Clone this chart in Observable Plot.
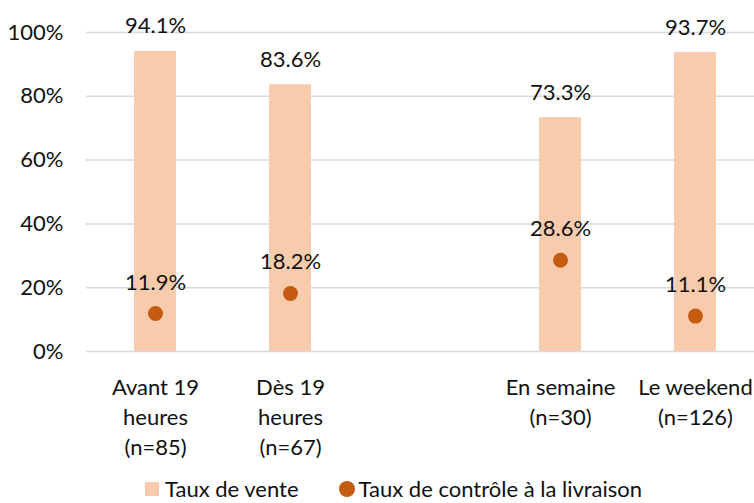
<!DOCTYPE html>
<html>
<head>
<meta charset="utf-8">
<script src="https://cdn.jsdelivr.net/npm/d3@7"></script>
<script src="https://cdn.jsdelivr.net/npm/@observablehq/plot@0.6"></script>
<style>
  html, body { margin: 0; padding: 0; background: #fff; }
  #wrap { position: relative; width: 754px; height: 503px; font-family: Lato, "Open Sans", sans-serif; }
  #legend { position: absolute; left: 145px; top: 478px; height: 22px; line-height: 22px; display: flex; align-items: center; font-size: 22px; color: #111; white-space: nowrap; }
  .sw { display: inline-block; width: 14px; height: 14px; margin-right: 6px; }
  .dot { display: inline-block; width: 16px; height: 16px; border-radius: 50%; margin-right: 4px; }
</style>
</head>
<body>
<div id="wrap"></div>
<script>
const categories = ["Avant 19 heures (n=85)", "Dès 19 heures (n=67)", "", "En semaine (n=30)", "Le weekend (n=126)"];
const categoryLabels = ["Avant 19\nheures\n(n=85)", "Dès 19\nheures\n(n=67)", "", "En semaine\n(n=30)", "Le weekend\n(n=126)"];
const tauxVente = [94.1, 83.6, null, 73.3, 93.7];
const tauxControle = [11.9, 18.2, null, 28.6, 11.1];
const yTicks = [0, 20, 40, 60, 80, 100];
const seriesNames = ["Taux de vente", "Taux de contrôle à la livraison"];
const colors = ["#F8CBAD", "#C55A11"];

const rows = categories.map((c, i) => ({cat: c, label: categoryLabels[i], vente: tauxVente[i], controle: tauxControle[i]}));
const data = rows.filter(d => d.vente != null);
const fmt = v => v.toFixed(1) + "%";

const chart = Plot.plot({
  width: 754,
  height: 470,
  marginLeft: 86,
  marginRight: 0,
  marginTop: 32,
  marginBottom: 119,
  style: {fontFamily: "Lato, 'Open Sans', sans-serif", fontSize: "22px", color: "#111", background: "#fff", overflow: "visible"},
  x: {domain: categories, range: [86, 764], paddingInner: 0.69, paddingOuter: 0.345, axis: null},
  y: {domain: [0, 100], axis: null},
  marks: [
    Plot.ruleY(yTicks, {stroke: "#d9d9d9", strokeWidth: 1.5}),
    Plot.text(yTicks, {x: null, y: d => d, text: d => d + "%", frameAnchor: "left", dx: -23, textAnchor: "end", fill: "#111"}),
    Plot.barY(data, {x: "cat", y: "vente", fill: colors[0]}),
    Plot.dot(data, {x: "cat", y: "controle", r: 7.5, fill: colors[1], stroke: null}),
    Plot.text(data, {x: "cat", y: "vente", text: d => fmt(d.vente), dy: -25, fill: "#111"}),
    Plot.text(data, {x: "cat", y: "controle", text: d => fmt(d.controle), dy: -31, fill: "#111"}),
    Plot.text(rows.filter(d => d.label), {x: "cat", y: () => 0, text: "label", lineAnchor: "top", lineHeight: 1.36, dy: 22, fill: "#111"})
  ]
});

const wrap = document.getElementById("wrap");
wrap.appendChild(chart);
const legend = document.createElement("div");
legend.id = "legend";
legend.innerHTML = `<span class="sw" style="background:${colors[0]}"></span><span>${seriesNames[0]}</span><span style="display:inline-block;width:40px"></span><span class="dot" style="background:${colors[1]}"></span><span>${seriesNames[1]}</span>`;
wrap.appendChild(legend);
</script>
</body>
</html>
